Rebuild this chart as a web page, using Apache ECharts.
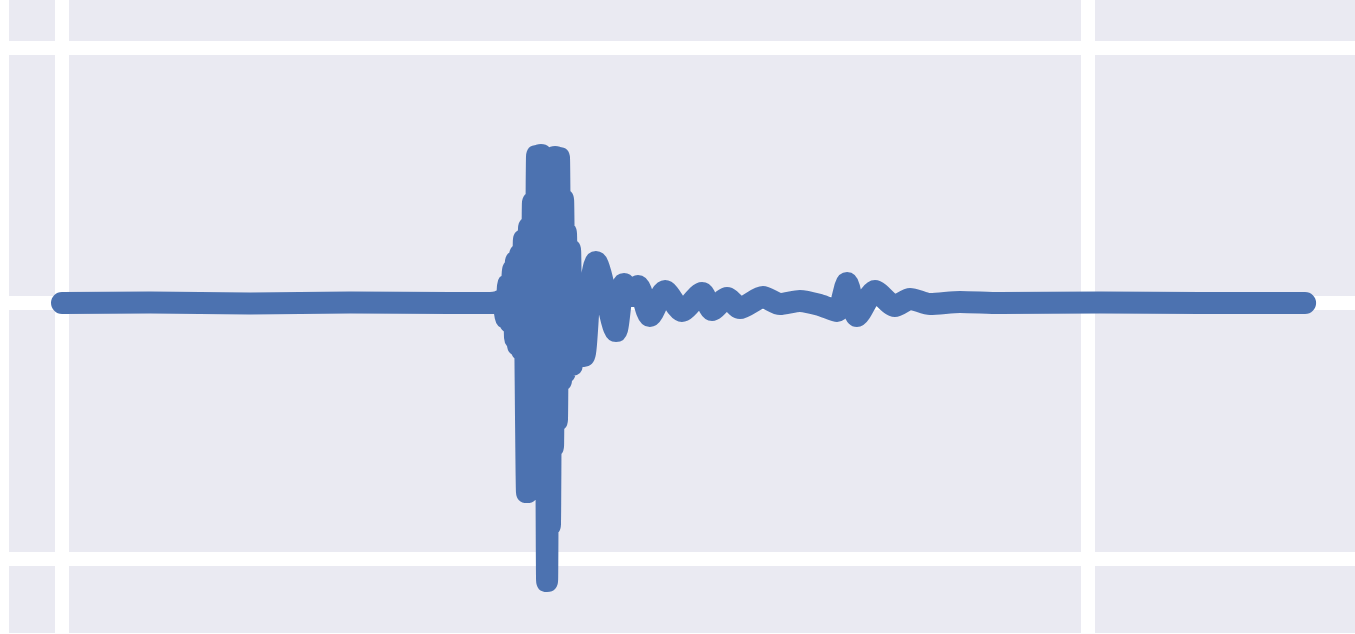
<!DOCTYPE html>
<html>
<head>
<meta charset="utf-8">
<script src="https://cdn.jsdelivr.net/npm/echarts@6/dist/echarts.min.js"></script>
<style>
html, body { margin: 0; padding: 0; background: #ffffff; width: 1355px; height: 634px; overflow: hidden; }
#clip { position: absolute; left: 9px; top: 0; width: 1346px; height: 633px; overflow: hidden; }
#c { position: absolute; left: -973px; top: -208px; width: 3078px; height: 1022px; }
</style>
</head>
<body>
<div id="clip"><div id="c"></div></div>
<script>
// Time (s) of each sample
var times = [
  0, 4.29, 9.16, 14.04, 18.91, 20.86, 21.25, 21.44, 21.64, 21.74,
  21.83, 21.98, 22.08, 22.12, 22.22, 22.32, 22.42, 22.51, 22.66, 22.76,
  22.86, 22.95, 23.05, 23.15, 23.25, 23.34, 23.44, 23.54, 23.64, 23.73,
  23.78, 23.88, 23.93, 24.03, 24.12, 24.22, 24.32, 24.42, 24.51, 24.56,
  24.66, 24.76, 24.85, 25.00, 25.19, 25.44, 25.73, 26.02, 27.00, 27.39,
  27.73, 28.07, 28.65, 29.39, 30.21, 31.19, 31.68, 32.41, 33.04, 34.16,
  34.99, 35.96, 36.94, 37.77, 38.26, 38.74, 39.62, 40.59, 41.33, 42.30,
  43.76, 45.71, 50.58, 55.46, 60.58
];
// Amplitude of each sample
var amplitudes = [
  0, 0.002, -0.002, 0.002, 0, 0, 0.004, 0.012, -0.059, 0.070,
  -0.074, 0.129, -0.137, 0.160, -0.164, 0.188, -0.184, 0.247, -0.740, 0.294,
  -0.654, 0.391, -0.536, 0.575, -0.497, 0.579, -0.693, 0.540, -1.088, 0.560,
  -0.869, 0.501, -0.560, 0.571, -0.458, 0.568, -0.301, 0.403, -0.270, 0.274,
  -0.223, 0.207, -0.243, 0.070, -0.164, -0.207, 0.051, 0.160, -0.110, 0.074,
  0.027, 0.067, -0.051, 0.047, -0.031, 0.039, -0.027, 0.020, -0.020, 0.023,
  -0.004, 0.008, -0.008, -0.031, 0.078, -0.051, 0.047, -0.012, 0.016, -0.004,
  0.004, 0, 0.002, 0, 0
];
// Grid tick values
var xTicks = [-50, 0, 50, 100];
var yTicks = [-2, -1, 0, 1, 2];

var data = times.map(function (t, i) { return [t, amplitudes[i]]; });

var chart = echarts.init(document.getElementById('c'), null, { renderer: 'canvas' });
chart.setOption({
  animation: false,
  grid: {
    left: 0, right: 0, top: 0, bottom: 0,
    show: true, backgroundColor: '#EAEAF2', borderWidth: 0, containLabel: false
  },
  xAxis: {
    type: 'value',
    min: xTicks[0], max: xTicks[xTicks.length - 1], interval: 50,
    axisLine: { show: false }, axisTick: { show: false }, axisLabel: { show: false },
    splitLine: { show: true, lineStyle: { color: '#ffffff', width: 14 } }
  },
  yAxis: {
    type: 'value',
    min: yTicks[0], max: yTicks[yTicks.length - 1], interval: 1,
    axisLine: { show: false }, axisTick: { show: false }, axisLabel: { show: false },
    splitLine: { show: true, lineStyle: { color: '#ffffff', width: 14 } }
  },
  series: [{
    type: 'line',
    data: data,
    symbol: 'none',
    showSymbol: false,
    smooth: 0.25,
    lineStyle: { color: '#4C72B0', width: 22, cap: 'round', join: 'round' },
    silent: true
  }]
});
</script>
</body>
</html>
